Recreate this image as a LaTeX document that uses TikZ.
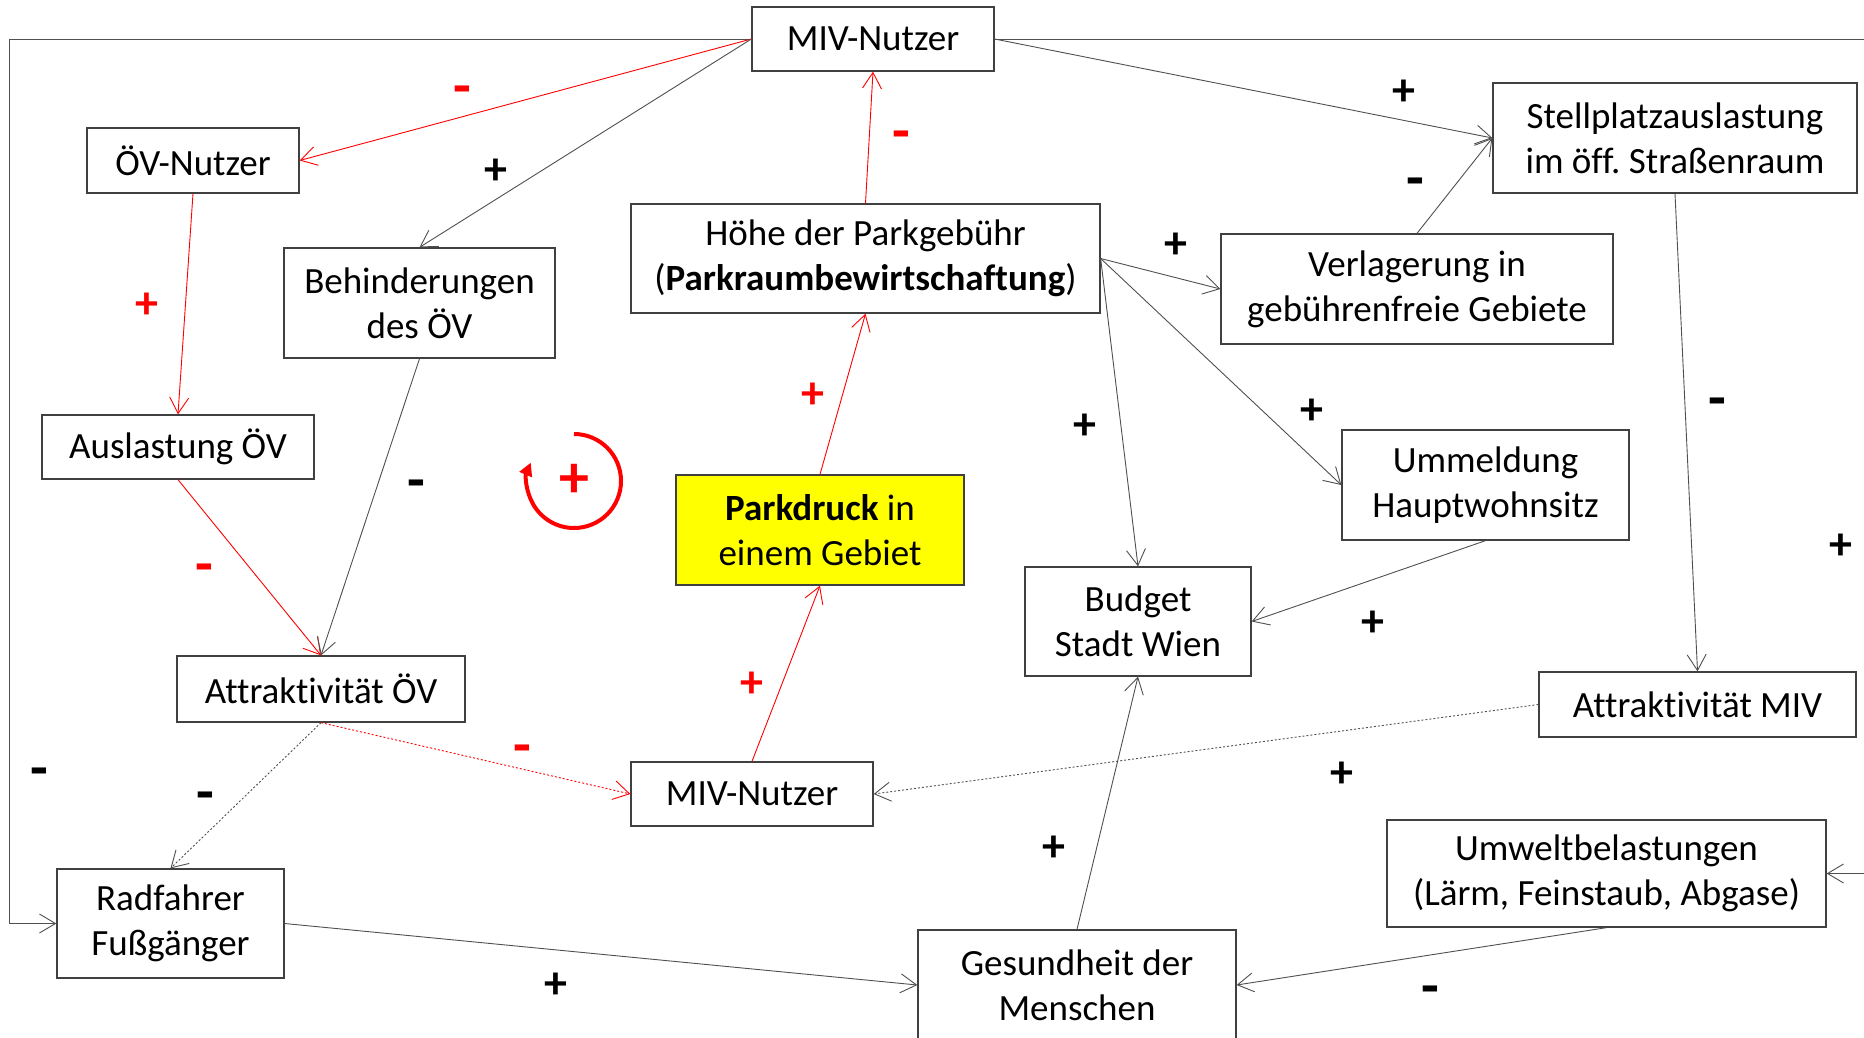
\documentclass[tikz,border=0pt]{standalone}
\usepackage{fontspec}
\setmainfont[Ligatures=NoCommon]{Carlito}
\usetikzlibrary{arrows.meta}
\definecolor{edge}{HTML}{404040}
\definecolor{lin}{HTML}{505050}
\definecolor{yel}{HTML}{FFFF00}
\frenchspacing
\begin{document}
\begin{tikzpicture}[x=1pt,y=-1pt,
  box/.style={draw=edge,line width=1.3pt,fill=white,inner sep=0pt,align=center,
    font=\fontsize{37}{45}\selectfont},
  conn/.style={draw=lin,line width=0.9pt,-{Straight Barb[length=16pt,width=19pt]}},
  rconn/.style={conn,draw=red},
  dott/.style={dash pattern=on 2pt off 2pt},
  sgn/.style={inner sep=0pt,yshift=-3pt,font=\fontsize{46}{46}\selectfont\bfseries},
  msgn/.style={inner sep=0pt,yshift=-7pt,font=\fontsize{58}{58}\selectfont\bfseries},
  rsgn/.style={sgn,text=red},
  rmsgn/.style={msgn,text=red}]
\clip (0,0) rectangle (1864,1037);
\fill[white] (0,0) rectangle (1864,1037);

% nodes
\node[box,minimum width=242pt,minimum height=64pt] (mivtop) at (873,39) {MIV-Nutzer};
\node[box,minimum width=212pt,minimum height=65pt] (oev) at (193,160.5) {ÖV-Nutzer};
\node[box,minimum width=364pt,minimum height=110pt] (stell) at (1675,138) {Stellplatzauslastung\\im öff. Straßenraum};
\node[box,minimum width=469pt,minimum height=109pt] (hoehe) at (865.5,258.5) {Höhe der Parkgebühr\\(\textbf{Parkraumbewirtschaftung})};
\node[box,minimum width=392pt,minimum height=110pt] (verl) at (1417,289) {Verlagerung in\\gebührenfreie Gebiete};
\node[box,minimum width=271pt,minimum height=110pt] (beh) at (419.5,303) {Behinderungen\\des ÖV};
\node[box,minimum width=272pt,minimum height=64pt] (ausl) at (178,447) {Auslastung ÖV};
\node[box,minimum width=287pt,minimum height=110pt] (umm) at (1485.5,485) {Ummeldung\\Hauptwohnsitz};
\node[box,fill=yel,minimum width=288pt,minimum height=110pt] (park) at (820,530) {\textbf{Parkdruck} in\\einem Gebiet};
\node[box,minimum width=226pt,minimum height=109pt] (budget) at (1138,621.5) {Budget\\Stadt Wien};
\node[box,minimum width=288pt,minimum height=66pt] (attoev) at (321,689) {Attraktivität ÖV};
\node[box,minimum width=317pt,minimum height=65pt] (attmiv) at (1697.5,704.5) {Attraktivität MIV};
\node[box,minimum width=242pt,minimum height=64pt] (mivbot) at (752,794) {MIV-Nutzer};
\node[box,minimum width=439pt,minimum height=107pt] (umwelt) at (1606.5,873.5) {Umweltbelastungen\\(Lärm, Feinstaub, Abgase)};
\node[box,minimum width=227pt,minimum height=109pt] (rad) at (170.5,923.5) {Radfahrer\\Fußgänger};
\node[box,minimum width=318pt,minimum height=110pt] (ges) at (1077,985) {Gesundheit der\\Menschen};

% frame connectors
\coordinate (lc) at (9,39);
\coordinate (rc) at (1900,39);
\draw[conn] (mivtop.west) -- (lc) |- (rad.west);
\draw[conn] (mivtop.east) -- (rc) |- (umwelt.east);

% connectors
\draw[rconn] (mivtop.west) -- (oev.east);
\draw[conn] (mivtop.west) -- (beh.north);
\draw[rconn] (hoehe.north) -- (mivtop.south);
\draw[conn] (mivtop.east) -- (stell.west);
\draw[conn] (verl.north) -- (stell.west);
\draw[conn] (hoehe.east) -- (verl.west);
\draw[conn] (hoehe.east) -- (umm.west);
\draw[conn] (hoehe.east) -- (budget.north);
\draw[conn] (umm.south) -- (budget.east);
\draw[conn] (stell.south) -- (attmiv.north);
\draw[conn,dott] (attmiv.west) -- (mivbot.east);
\draw[rconn] (mivbot.north) -- (park.south);
\draw[rconn] (park.north) -- (hoehe.south);
\draw[rconn] (oev.south) -- (ausl.north);
\draw[rconn] (ausl.south) -- (attoev.north);
\draw[conn] (beh.south) -- (attoev.north);
\draw[rconn,dott] (attoev.south) -- (mivbot.west);
\draw[conn,dott] (attoev.south) -- (rad.north);
\draw[conn] (rad.east) -- (ges.west);
\draw[conn] (umwelt.south) -- (ges.east);
\draw[conn] (ges.north) -- (budget.south);

% signs
\node[rmsgn] (s1) at (462,89) {-};
\node[sgn] (s2) at (496,169) {+};
\node[rmsgn] (s3) at (901,134) {-};
\node[sgn] (s4) at (1404,90) {+};
\node[msgn] (s5) at (1415,181) {-};
\node[sgn] (s6) at (1176,243) {+};
\node[sgn] (s7) at (1312,409) {+};
\node[sgn] (s8) at (1085,424) {+};
\node[sgn] (s9) at (1373,621) {+};
\node[msgn] (s10) at (1717,401) {-};
\node[sgn] (s11) at (1342,772) {+};
\node[rsgn] (s12) at (752,682) {+};
\node[rsgn] (s13) at (813,393) {+};
\node[rsgn] (s14) at (147,303) {+};
\node[rmsgn] (s15) at (204,567) {-};
\node[msgn] (s16) at (416,483) {-};
\node[rmsgn] (s17) at (522,748) {-};
\node[msgn] (s18) at (205,795) {-};
\node[msgn] (s19) at (39,771) {-};
\node[sgn] (s20) at (556,983) {+};
\node[msgn] (s21) at (1430,989) {-};
\node[sgn] (s22) at (1054,846) {+};
\node[sgn] (s23) at (1841,544) {+};

% loop symbol
\begin{scope}[shift={(574,481)},x=1pt,y=1pt]
  \draw[red,line width=4pt,-{Triangle[length=13pt,width=13pt]}] (90:47) arc[start angle=90,end angle=-203,radius=47];
  \node[inner sep=0pt,text=red,font=\fontsize{60}{60}\selectfont\bfseries] (loopsign) at (0,0) {+};
\end{scope}
\end{tikzpicture}
\end{document}
